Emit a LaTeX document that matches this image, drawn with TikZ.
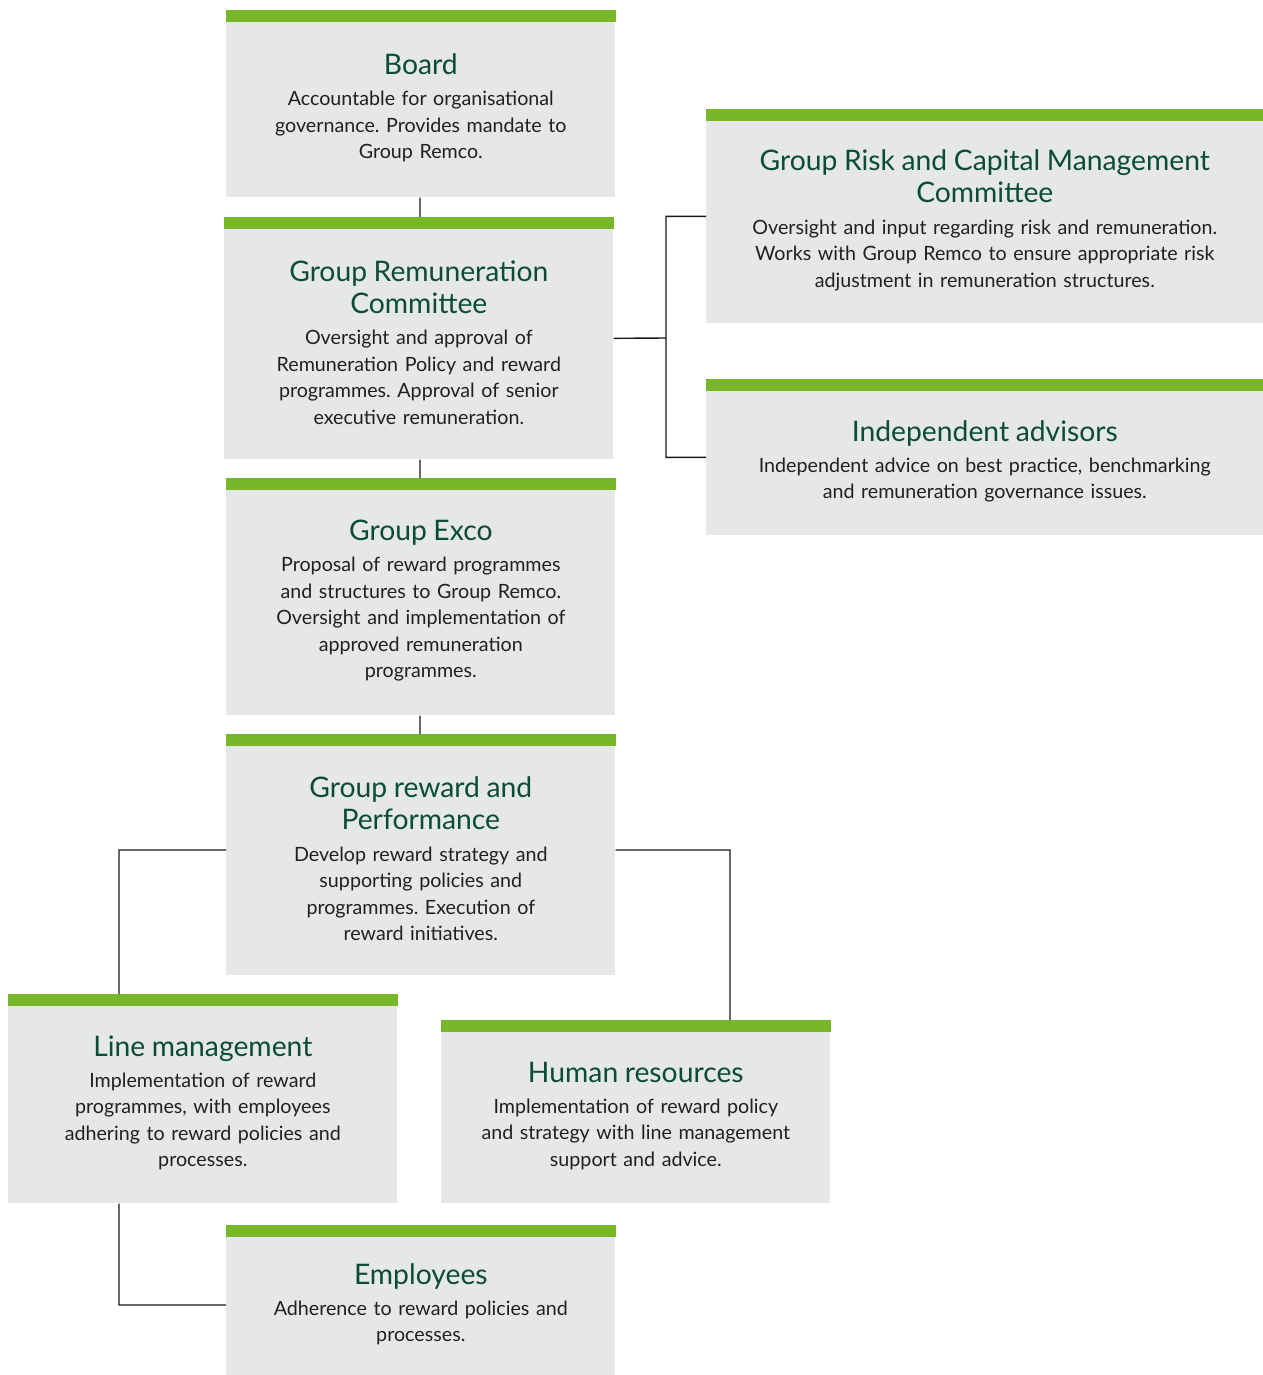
\documentclass[tikz,border=0pt]{standalone}
\usepackage{fontspec}
\setmainfont{Lato}
\usepackage{tikz}
\usetikzlibrary{positioning, calc}

\definecolor{bargreen}{HTML}{76B82A}
\definecolor{panelgray}{HTML}{E6E7E8}
\definecolor{titlegreen}{HTML}{0B4D34}
\definecolor{bodygray}{HTML}{231F20}

\frenchspacing
\newcommand{\ptitle}[1]{{\fontsize{16.1}{18.4}\selectfont\color{titlegreen}#1\par}\vspace{2.6pt}}

\begin{document}
\begin{tikzpicture}[x=0.02cm, y=-0.02cm,
    panel/.style={anchor=north west, inner sep=0pt, fill=panelgray, align=center,
        text width=7.7cm, minimum width=7.78cm, text=bodygray,
        font=\fontsize{11.2}{15.1}\selectfont,
        execute at end node={\endgraf\vspace{-4.5pt}}},
    widepanel/.style={panel, text width=11cm, minimum width=11.14cm},
    link/.style={draw=black!90, line width=0.8pt}]

            \useasboundingbox (0,0) rectangle (1263,1375);

            % main column
            \node[panel, minimum height=3.74cm] (board) at (226,10)
                {\ptitle{Board}Accountable for organisational\\governance. Provides mandate to\\Group Remco.};
            \node[panel, minimum height=4.84cm] (remco) at (224,217)
                {\ptitle{Group Remuneration\\Committee}Oversight and approval of\\Remuneration Policy and reward\\programmes. Approval of senior\\executive remuneration.};
            \node[panel, minimum height=4.74cm] (exco) at (226,478)
                {\ptitle{Group Exco}Proposal of reward programmes\\and structures to Group Remco.\\Oversight and implementation of\\approved remuneration\\programmes.};
            \node[panel, minimum height=4.82cm] (reward) at (226,734)
                {\ptitle{Group reward and\\Performance}Develop reward strategy and\\supporting policies and\\programmes. Execution of\\reward initiatives.};

            % side committees
            \node[widepanel, minimum height=4.28cm] (risk) at (706,109)
                {\ptitle{Group Risk and Capital Management\\Committee}Oversight and input regarding risk and remuneration.\\Works with Group Remco to ensure appropriate risk\\adjustment in remuneration structures.};
            \node[widepanel, minimum height=3.12cm] (advisors) at (706,379)
                {\ptitle{Independent advisors}Independent advice on best practice, benchmarking\\and remuneration governance issues.};

            % lower level
            \node[panel, minimum height=4.18cm] (linemgmt) at (8,994)
                {\ptitle{Line management}Implementation of reward\\programmes, with employees\\adhering to reward policies and\\processes.};
            \node[panel, minimum height=3.66cm] (hr) at (441,1020)
                {\ptitle{Human resources}Implementation of reward policy\\and strategy with line management\\support and advice.};
            \node[panel, minimum height=3.00cm] (employees) at (226,1225)
                {\ptitle{Employees}Adherence to reward policies and\\processes.};

            % green bars
            \foreach \n in {board,remco,exco,reward,risk,advisors,linemgmt,hr,employees}
                \fill[bargreen] (\n.north west) rectangle ([yshift=-0.24cm]\n.north east);

            \coordinate (rj) at (666,338);

            \path[link]
            (board.south -| 420,0) -- (remco.north -| 420,0)
            (remco.south -| 420,0) -- (exco.north -| 420,0)
            (exco.south -| 420,0) -- (reward.north -| 420,0)
            (remco.east) -- (rj)
            (risk.west) -| (rj) |- (advisors.west)
            (reward.west |- 0,850) -| (linemgmt.north -| 119,0)
            (reward.east |- 0,850) -| (hr.north -| 730,0)
            (linemgmt.south -| 119,0) |- (employees.west |- 0,1305)
            ;
        \end{tikzpicture}
\end{document}
